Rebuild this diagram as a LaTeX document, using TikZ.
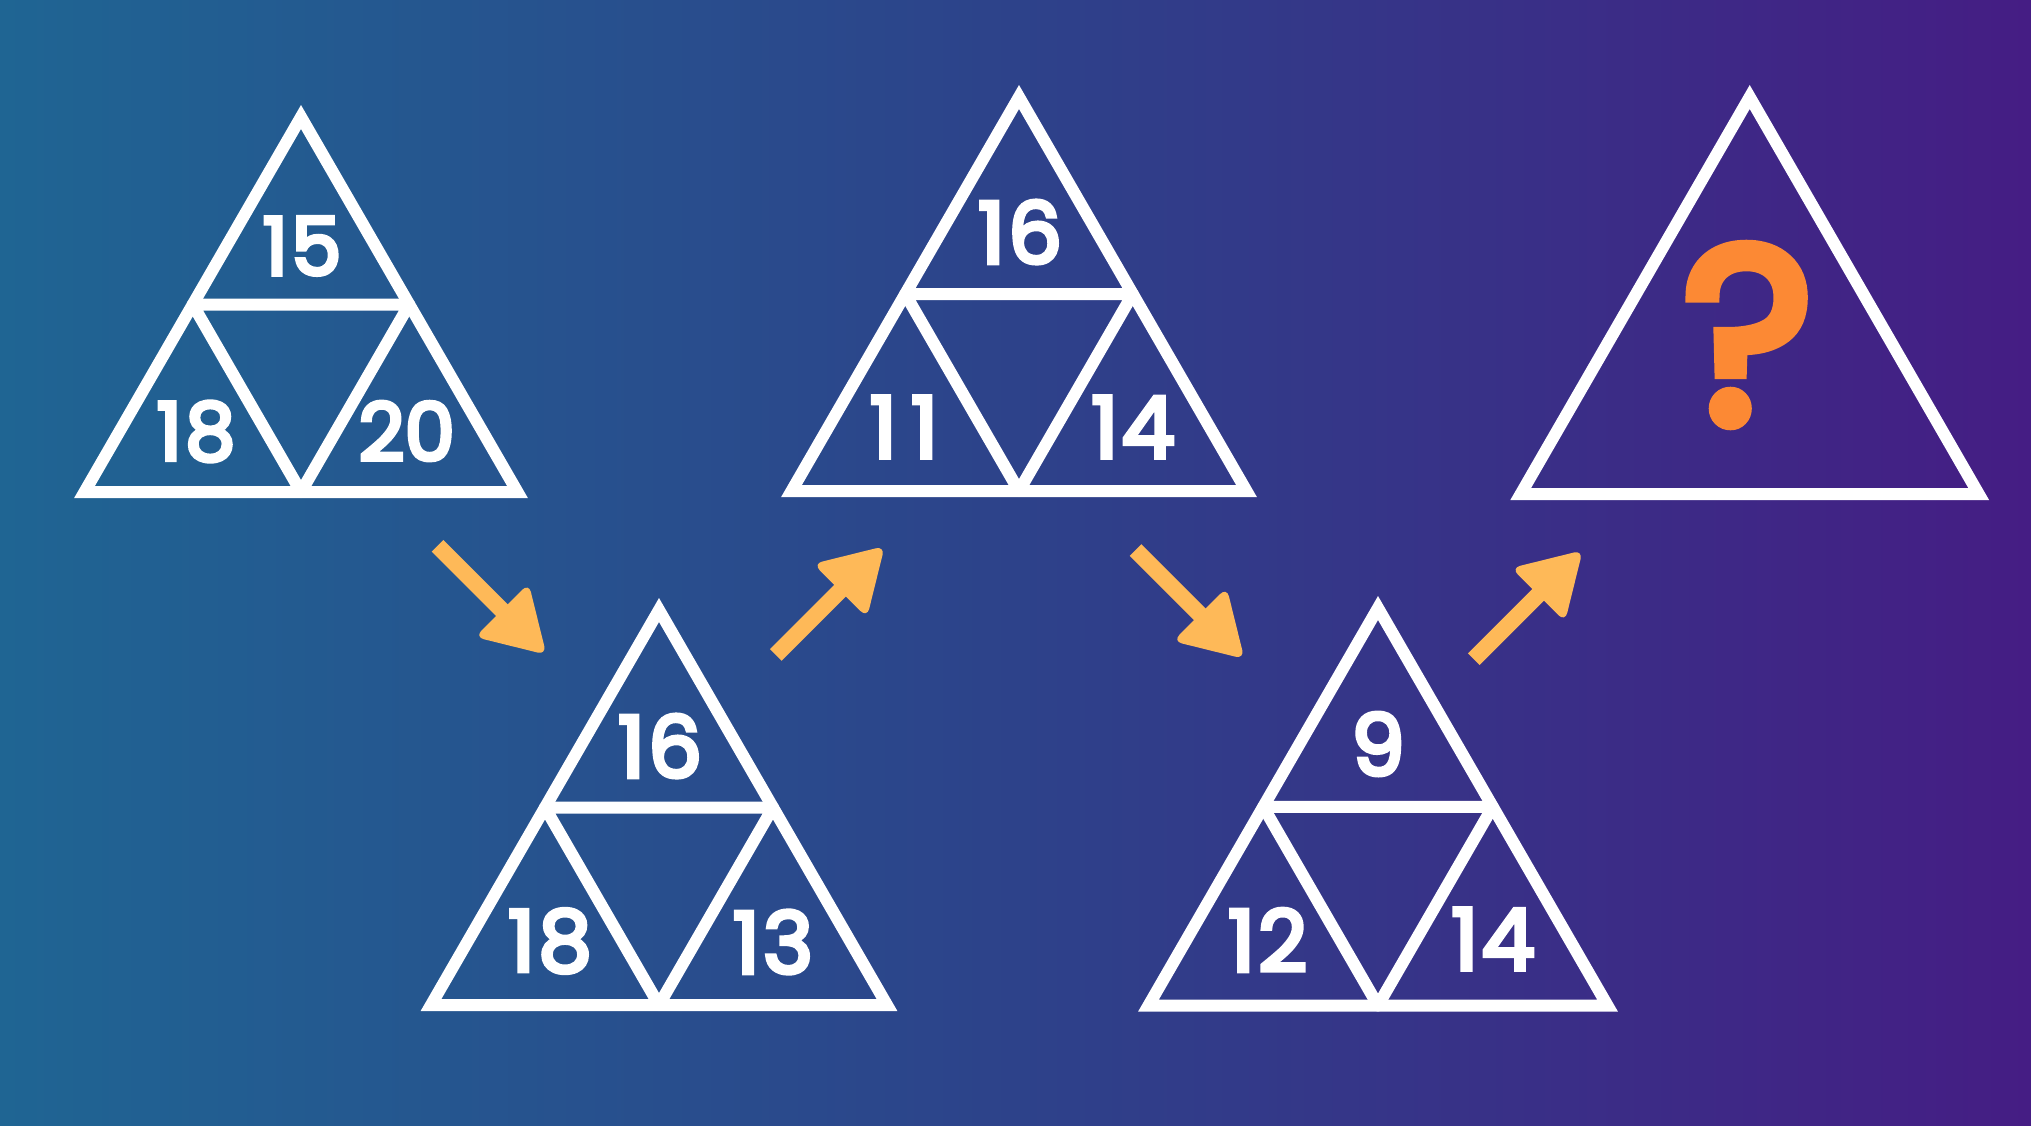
\documentclass[tikz,border=0pt]{standalone}
\usepackage{fontspec}
\setmainfont{Poppins}
\newfontfamily\numfont{Poppins}[FakeBold=5]
\usetikzlibrary{calc}
\definecolor{bgleft}{RGB}{31,101,147}
\definecolor{bgmid}{RGB}{45,66,138}
\definecolor{bgright}{RGB}{69,29,132}
\definecolor{arrowcol}{RGB}{254,185,88}
\definecolor{qcol}{RGB}{252,137,52}
\tikzset{
  tri/.style={draw=white, line width=12pt, line join=miter},
  innertri/.style={draw=white, line width=12pt, line join=round},
  num/.style={text=white, inner sep=0pt, font=\numfont\fontsize{85}{85}\selectfont},
  numsmall/.style={num, font=\numfont\fontsize{80}{80}\selectfont},
  qmark/.style={text=qcol, inner sep=0pt, font=\numfont\fontsize{250}{250}\selectfont},
}
\newcommand\pyr[5]{% name, cx, apex y, base y, half width
  \coordinate (#1-a) at (#2,#3);
  \coordinate (#1-l) at ({#2-#5},#4);
  \coordinate (#1-r) at ({#2+#5},#4);
  \coordinate (#1-ml) at ($(#1-a)!0.5!(#1-l)$);
  \coordinate (#1-mr) at ($(#1-a)!0.5!(#1-r)$);
  \coordinate (#1-mb) at ($(#1-l)!0.5!(#1-r)$);
  \draw[tri] (#1-a) -- (#1-l) -- (#1-r) -- cycle;
}
\newcommand\inner[1]{%
  \draw[innertri] (#1-ml) -- (#1-mr) -- (#1-mb) -- cycle;
}
\newcommand\orarrow[4]{% name, x, y, angle
  \coordinate (#1-s) at (#2,#3);
  \begin{scope}[shift={(#1-s)}, rotate=#4]
    \fill[arrowcol] (0,-8.25) rectangle (98,8.25);
    \fill[arrowcol, rounded corners=9pt] (91,-38) -- (154,0) -- (91,38) -- cycle;
    \coordinate (#1-e) at (154,0);
  \end{scope}
}
\begin{document}
\begin{tikzpicture}[x=1pt, y=-1pt]
  \useasboundingbox (0,0) rectangle (2031,1125);
  \shade[left color=bgleft, right color=bgright, middle color=bgmid] (0,0) rectangle (2031,1125);

  % triangle 1
  \pyr{t1}{301}{117}{492}{216.5}
  \inner{t1}
  \node[numsmall] (t1top) at (302,246) {1\kern3pt5};
  \node[numsmall] (t1l) at (196,431.5) {1\kern3pt8};
  \node[numsmall] (t1r) at (406.7,431) {20};

  % triangle 2
  \pyr{t2}{659}{610}{1005}{228}
  \inner{t2}
  \node[num] (t2top) at (660,746) {1\kern3pt6};
  \node[num] (t2l) at (550,941) {1\kern3pt8};
  \node[num] (t2r) at (773,942) {1\kern3pt3};

  % triangle 3
  \pyr{t3}{1019}{97}{491}{227.5}
  \inner{t3}
  \node[num] (t3top) at (1020,232) {1\kern3pt6};
  \node[num] (t3l) at (904,427) {1\kern14pt1};
  \node[num] (t3r) at (1133,427) {1\kern3pt4};

  % triangle 4
  \pyr{t4}{1378}{608}{1005.5}{229.5}
  \inner{t4}
  \node[num] (t4top) at (1378,744) {9};
  \node[num] (t4l) at (1267.5,940) {1\kern3pt2};
  \node[num] (t4r) at (1493,939) {1\kern3pt4};

  % triangle 5
  \pyr{t5}{1749.7}{97}{494}{229}
  \node[qmark] (q) at (1748,335) {?};

  % arrows
  \orarrow{a1}{437.5}{545.8}{-45}
  \orarrow{a2}{775.8}{655}{45}
  \orarrow{a3}{1135.5}{550}{-45}
  \orarrow{a4}{1473.8}{659.2}{45}
\end{tikzpicture}
\end{document}
